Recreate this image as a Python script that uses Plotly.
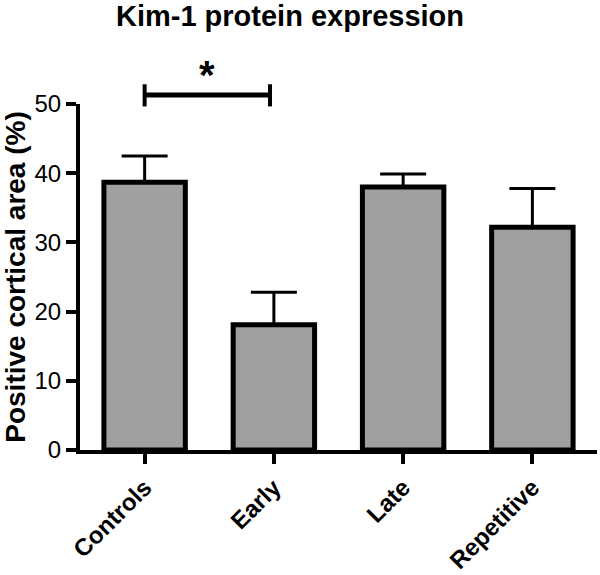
import plotly.graph_objects as go

# Kim-1 expression, mean and upper SEM
groups = ["Controls", "Early", "Late", "Repetitive"]
means = [38.7, 18.1, 38.0, 32.2]
sem = [3.8, 4.7, 1.9, 5.6]
zeros = [0, 0, 0, 0]
y_ticks = [0, 10, 20, 30, 40, 50]

fig = go.Figure()
fig.add_trace(go.Bar(
    x=groups, y=means, width=0.63,
    marker=dict(color="#a0a0a0", line=dict(color="black", width=5)),
    error_y=dict(type="data", array=sem, arrayminus=zeros, symmetric=False,
                 color="black", thickness=3, width=23),
))

# significance bracket Controls vs Early
fig.add_shape(type="line", xref="x", yref="paper", x0=0, x1=0.97, y0=1.026, y1=1.026,
              line=dict(color="black", width=5))
for xv in [0, 0.97]:
    fig.add_shape(type="line", xref="x", yref="paper", x0=xv, x1=xv, y0=0.993, y1=1.057,
                  line=dict(color="black", width=4))
fig.add_annotation(x=0.485, y=1.085, xref="x", yref="paper", yanchor="middle",
                   text="<b>*</b>", showarrow=False, font=dict(size=40, color="black"))

fig.update_layout(
    width=600, height=575,
    margin=dict(l=80, r=3, t=104, b=125),
    plot_bgcolor="white", paper_bgcolor="white",
    font=dict(family="Liberation Sans, Arial", color="black"),
    title=dict(text="<b>Kim-1 protein expression</b>", x=290 / 600, xanchor="center",
               y=0.99, yanchor="top", font=dict(size=29)),
    showlegend=False,
)
fig.update_xaxes(
    range=[-0.5, 3.5], showline=True, linecolor="black", linewidth=4, automargin=False,
    ticks="outside", ticklen=10, tickwidth=4, tickcolor="black",
    tickangle=-45, tickfont=dict(size=24), tickprefix="<b>", ticksuffix="</b>",
)
fig.update_yaxes(
    range=[0, 50], tickvals=y_ticks, showline=True, linecolor="black", linewidth=4,
    automargin=False, ticks="outside", ticklen=10, tickwidth=4, tickcolor="black",
    showgrid=False, zeroline=False, tickfont=dict(size=24),
    tickprefix="<b>", ticksuffix="</b>",
    title=dict(text="<b>Positive cortical area (%)</b>", font=dict(size=28), standoff=3),
)

# page body has a default 8px margin; drop it so the figure sits at 0,0
fig.write_html("out.html", config={"displayModeBar": False},
               post_script="document.body.style.margin='0';")
